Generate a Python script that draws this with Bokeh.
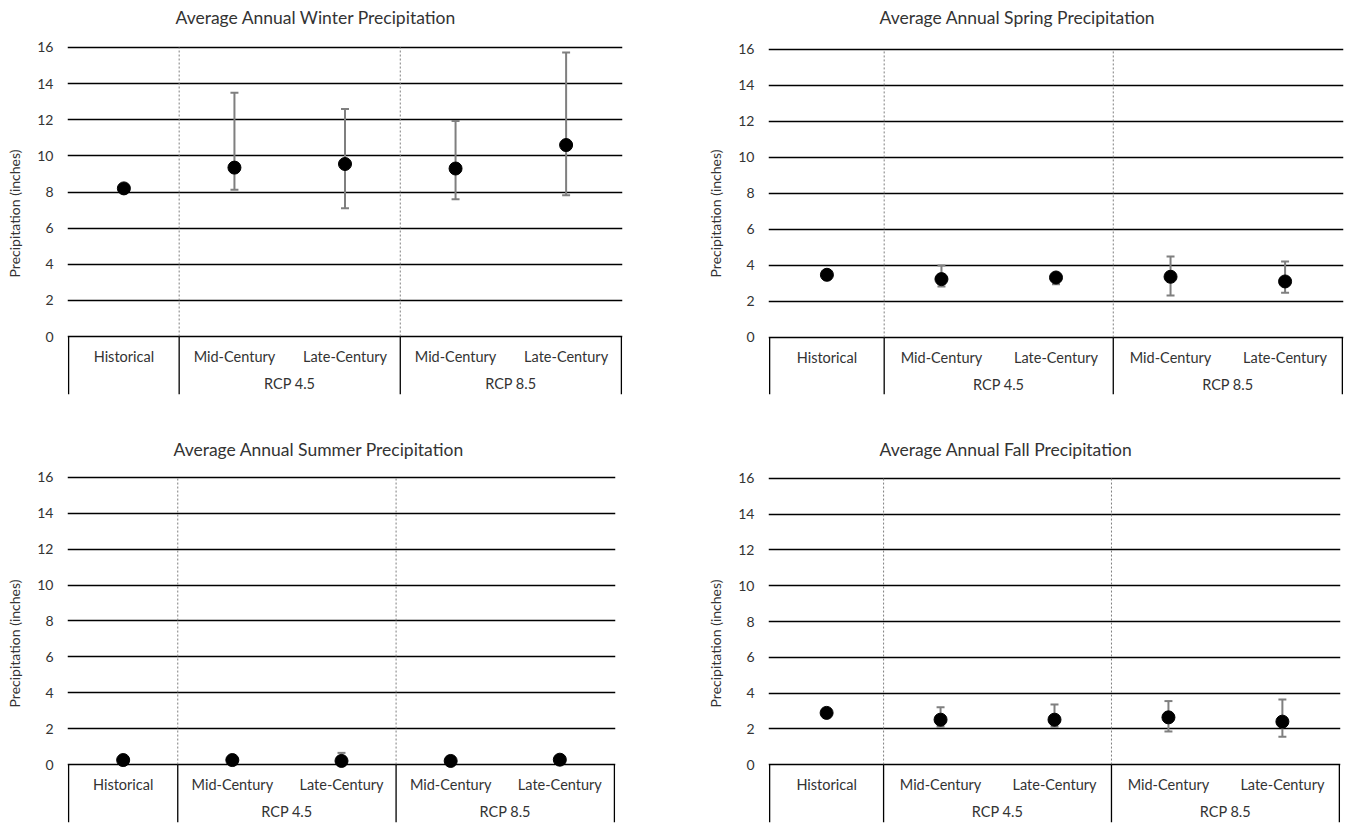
import math
from bokeh.plotting import figure
from bokeh.layouts import column, row
from bokeh.models import Range1d, FixedTicker, ColumnDataSource
from bokeh.core.properties import value
from bokeh.embed import file_html
from bokeh.resources import INLINE

NaN = float("nan")

categories = ["Historical", "Mid-Century", "Late-Century", "Mid-Century", "Late-Century"]
groups = ["RCP 4.5", "RCP 8.5"]
y_ticks = [0, 2, 4, 6, 8, 10, 12, 14, 16]

winter_mean = [8.2, 9.35, 9.55, 9.3, 10.6]
winter_low = [NaN, 8.13, 7.1, 7.6, 7.82]
winter_high = [NaN, 13.5, 12.6, 11.93, 15.72]

spring_mean = [3.48, 3.24, 3.33, 3.37, 3.11]
spring_low = [NaN, 2.83, 2.95, 2.33, 2.48]
spring_high = [NaN, 4.0, 3.55, 4.5, 4.22]

summer_mean = [0.25, 0.25, 0.2, 0.2, 0.27]
summer_low = [NaN, 0.2, 0.05, 0.14, 0.18]
summer_high = [NaN, 0.32, 0.65, 0.28, 0.35]

fall_mean = [2.89, 2.51, 2.51, 2.64, 2.4]
fall_low = [NaN, 2.11, 2.11, 1.85, 1.55]
fall_high = [NaN, 3.21, 3.36, 3.55, 3.64]

FONT = "Lato"
TEXT = "#333333"


def panel(title, mean, low, high, width, height, bl, br, bt, bb, y0, y1, title_offset):
    p = figure(width=width, height=height, output_backend="svg", toolbar_location=None,
               x_range=Range1d(-0.01, 5.01), y_range=Range1d(y0, y1),
               min_border_left=bl, min_border_right=br, min_border_top=bt, min_border_bottom=bb)
    frame_w = width - bl - br
    p.outline_line_color = None
    p.xaxis.visible = False
    p.xgrid.visible = False
    p.ygrid.ticker = FixedTicker(ticks=y_ticks)
    p.ygrid.grid_line_color = "#000000"
    p.ygrid.grid_line_width = 1.3
    ax = p.yaxis[0]
    ax.ticker = FixedTicker(ticks=y_ticks)
    ax.axis_line_color = None
    ax.major_tick_line_color = None
    ax.minor_tick_line_color = None
    ax.major_tick_out = 0
    ax.major_tick_in = 0
    ax.minor_tick_out = 0
    ax.major_label_text_font = FONT
    ax.major_label_text_font_size = "14px"
    ax.major_label_text_color = TEXT
    ax.major_label_standoff = 14
    ax.axis_label = "Precipitation (inches)"
    ax.axis_label_text_font = FONT
    ax.axis_label_text_font_size = "14px"
    ax.axis_label_text_font_style = "normal"
    ax.axis_label_text_color = TEXT
    ax.axis_label_standoff = 11

    p.title.text = title
    p.title.align = "left"
    p.title.text_font = FONT
    p.title.text_font_size = "17.5px"
    p.title.text_font_style = "normal"
    p.title.text_color = TEXT
    p.title.offset = title_offset
    p.title.standoff = 9

    n = len(categories)
    xs = [i + 0.5 for i in range(n)]

    # group separators (dashed within plot area)
    bounds = [1, 3]
    p.segment(x0=bounds, x1=bounds, y0=[y_ticks[0]] * 2, y1=[y_ticks[-1]] * 2,
              line_color="#7f7f7f", line_width=1, line_dash="2 2")
    # category table lines
    edges = [0, 1, 3, 5]
    p.segment(x0=edges, x1=edges, y0=[y_ticks[0]] * 4, y1=[y0] * 4,
              line_color="#000000", line_width=1.3)

    # error bars
    hw = 4.0 * 5.0 / frame_w
    src = ColumnDataSource(dict(x=xs, m=mean, lo=low, hi=high,
                                xl=[x - hw for x in xs], xr=[x + hw for x in xs]))
    p.segment(x0="x", x1="x", y0="lo", y1="hi", source=src, line_color="#7f7f7f", line_width=2)
    p.segment(x0="xl", x1="xr", y0="lo", y1="lo", source=src, line_color="#7f7f7f", line_width=2)
    p.segment(x0="xl", x1="xr", y0="hi", y1="hi", source=src, line_color="#7f7f7f", line_width=2)
    p.scatter(x="x", y="m", source=src, size=13, fill_color="#000000", line_color="#000000")

    # category labels
    p.text(x=xs, y=[-1.1] * n, text=categories, text_font=value(FONT), text_font_size="14.5px",
           text_color=TEXT, text_align="center", text_baseline="middle")
    gx = [2.0, 4.0]
    p.text(x=gx, y=[-2.6] * 2, text=groups, text_font=value(FONT), text_font_size="14.5px",
           text_color=TEXT, text_align="center", text_baseline="middle")
    return p


p1 = panel("Average Annual Winter Precipitation", winter_mean, winter_low, winter_high,
           680, 420, 67, 58, 30, 26, -3.21, 16.83, 108)
p2 = panel("Average Annual Spring Precipitation", spring_mean, spring_low, spring_high,
           671, 420, 88, 8, 30, 26, -3.17, 16.94, 111)
p3 = panel("Average Annual Summer Precipitation", summer_mean, summer_low, summer_high,
           680, 404, 67, 65, 44, 2, -3.23, 16.72, 106)
p4 = panel("Average Annual Fall Precipitation", fall_mean, fall_low, fall_high,
           671, 404, 88, 11, 44, 2, -3.24, 16.78, 111)

layout = column(row(p1, p2), row(p3, p4))
open("out.html", "w").write(file_html(layout, INLINE))
